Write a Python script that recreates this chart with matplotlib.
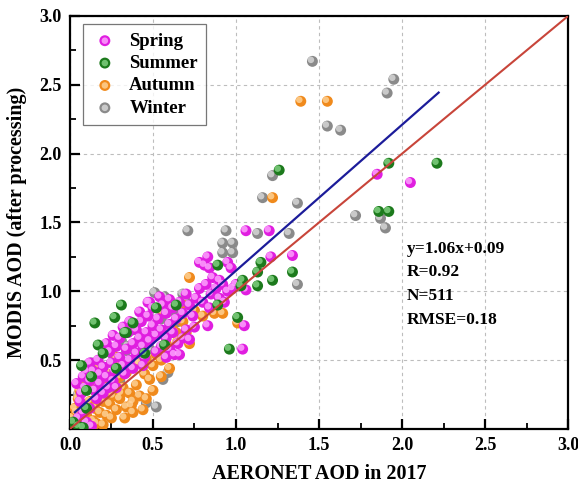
import matplotlib

matplotlib.use("Agg")
import matplotlib.pyplot as plt
import matplotlib.transforms as mtransforms
from matplotlib.legend_handler import HandlerTuple

# season -> list of (AERONET AOD, MODIS AOD)
spring = [
    (0.05, 0.08), (0.08, 0.12), (0.10, 0.05), (0.12, 0.15), (0.06, 0.20), (0.09, 0.30),
    (0.12, 0.35), (0.08, 0.38), (0.15, 0.28), (0.14, 0.42), (0.18, 0.33), (0.20, 0.45),
    (0.22, 0.38), (0.17, 0.50), (0.25, 0.48), (0.24, 0.56), (0.27, 0.42), (0.28, 0.60),
    (0.30, 0.52), (0.32, 0.46), (0.30, 0.66), (0.34, 0.58), (0.36, 0.50), (0.35, 0.70),
    (0.38, 0.62), (0.40, 0.55), (0.40, 0.72), (0.42, 0.66), (0.44, 0.60), (0.43, 0.78),
    (0.46, 0.70), (0.48, 0.64), (0.47, 0.82), (0.50, 0.75), (0.52, 0.68), (0.50, 0.88),
    (0.53, 0.80), (0.55, 0.72), (0.56, 0.90), (0.58, 0.84), (0.60, 0.76), (0.62, 0.88),
    (0.64, 0.80), (0.60, 0.94), (0.66, 0.92), (0.68, 0.84), (0.70, 0.98), (0.72, 0.90),
    (0.74, 0.82), (0.76, 0.95), (0.78, 1.02), (0.80, 0.92), (0.82, 1.05), (0.85, 0.98),
    (0.88, 1.02), (0.90, 0.95), (0.92, 1.05), (0.95, 1.00), (0.98, 1.02), (0.20, 0.26),
    (0.23, 0.30), (0.26, 0.35), (0.33, 0.40), (0.38, 0.44), (0.45, 0.52), (0.55, 0.60),
    (0.58, 0.66), (0.62, 0.70), (0.65, 0.62), (0.70, 0.72), (0.75, 0.74), (0.66, 0.54),
    (0.72, 0.65), (0.16, 0.22), (0.18, 0.40), (0.12, 0.48), (0.10, 0.42), (0.22, 0.62),
    (0.26, 0.68), (0.42, 0.85), (0.48, 0.92), (0.54, 0.96), (0.36, 0.78), (0.32, 0.74),
    (0.04, 0.33), (0.07, 0.26), (0.28, 0.30), (0.44, 0.46), (0.52, 0.56), (0.58, 0.52),
    (0.68, 0.66), (0.60, 0.58), (0.47, 0.92), (0.63, 0.54), (0.83, 0.75), (0.84, 0.88),
    (0.83, 1.25), (0.78, 1.21), (0.95, 1.21), (0.97, 1.17), (0.84, 1.17), (1.21, 1.25),
    (1.34, 1.26), (1.06, 1.01), (1.05, 0.75), (1.04, 0.58), (1.06, 1.44), (1.20, 1.44),
    (1.85, 1.85), (2.05, 1.79), (0.81, 1.19), (0.90, 1.08), (0.86, 1.10), (0.93, 0.92),
    (1.00, 1.05), (0.10, 0.00), (0.13, 0.02),
]
summer = [
    (0.07, 0.46), (0.10, 0.28), (0.17, 0.61), (0.34, 0.70), (0.31, 0.90), (0.27, 0.81),
    (0.15, 0.77), (0.38, 0.77), (0.33, 0.70), (0.52, 0.88), (0.57, 0.61), (0.96, 0.58),
    (0.89, 0.90), (1.01, 0.81), (0.89, 1.19), (1.15, 1.21), (1.13, 1.14), (1.04, 1.08),
    (1.03, 1.04), (1.13, 1.04), (1.22, 1.08), (1.34, 1.14), (1.26, 1.88), (1.92, 1.93),
    (2.21, 1.93), (1.86, 1.58), (1.92, 1.58), (0.05, 0.02), (0.08, 0.01), (0.28, 0.44),
    (0.20, 0.55), (0.45, 0.55), (0.13, 0.38), (0.64, 0.90), (0.02, 0.05), (0.10, 0.15),
]
autumn = [
    (0.02, 0.05), (0.04, 0.12), (0.06, 0.02), (0.08, 0.18), (0.05, 0.22), (0.10, 0.10),
    (0.12, 0.20), (0.14, 0.06), (0.15, 0.15), (0.18, 0.12), (0.20, 0.20), (0.16, 0.26),
    (0.22, 0.10), (0.24, 0.18), (0.26, 0.24), (0.28, 0.14), (0.30, 0.22), (0.32, 0.30),
    (0.34, 0.16), (0.36, 0.26), (0.38, 0.20), (0.40, 0.32), (0.42, 0.24), (0.44, 0.14),
    (0.46, 0.22), (0.50, 0.28), (0.48, 0.36), (0.55, 0.38), (0.60, 0.44), (0.12, 0.30),
    (0.09, 0.35), (0.20, 0.34), (0.25, 0.40), (0.30, 0.38), (0.35, 0.44), (0.40, 0.48),
    (0.45, 0.40), (0.50, 0.46), (0.55, 0.50), (0.60, 0.56), (0.65, 0.64), (0.70, 0.70),
    (0.58, 0.62), (0.52, 0.54), (0.68, 0.78), (0.72, 0.62), (0.87, 0.84), (0.92, 0.84),
    (1.01, 0.77), (1.22, 1.68), (1.39, 2.38), (1.55, 2.38), (0.75, 0.86), (0.80, 0.82),
    (0.62, 0.72), (0.18, 0.46), (0.28, 0.52), (0.06, 0.28), (0.03, 0.15), (0.01, 0.08),
    (0.11, 0.02), (0.20, 0.03), (0.33, 0.08), (0.38, 0.12), (0.58, 0.70), (0.64, 0.70),
    (0.72, 1.10), (0.56, 0.85), (0.68, 0.90), (0.37, 0.17), (0.31, 0.26), (0.27, 0.33),
    (0.34, 0.41), (0.46, 0.51), (0.42, 0.48), (0.16, 0.04), (0.25, 0.08), (0.07, 0.08),
]
winter = [
    (0.71, 1.44), (0.94, 1.44), (1.13, 1.42), (1.32, 1.42), (0.92, 1.35), (0.98, 1.35),
    (0.92, 1.28), (0.98, 1.28), (1.37, 1.05), (1.46, 2.67), (1.95, 2.54), (1.91, 2.44),
    (1.55, 2.20), (1.63, 2.17), (1.22, 1.84), (1.16, 1.68), (1.37, 1.64), (1.72, 1.55),
    (1.87, 1.53), (1.90, 1.46), (0.51, 0.99), (0.57, 0.96), (0.31, 0.64), (0.46, 0.19),
    (0.52, 0.16), (0.56, 0.36), (0.59, 0.41), (0.08, 0.34), (0.12, 0.40), (0.20, 0.45),
    (0.25, 0.55), (0.35, 0.60), (0.40, 0.50), (0.45, 0.65), (0.55, 0.80), (0.62, 0.86),
    (0.65, 0.78), (0.05, 0.25), (0.16, 0.30), (0.30, 0.35), (0.38, 0.72), (0.48, 0.58),
    (0.70, 0.92), (0.58, 0.70), (0.22, 0.20), (0.68, 0.98), (0.14, 0.35), (0.34, 0.57),
    (0.41, 0.64), (0.13, 0.48),
]

fit_slope, fit_icpt = 1.06, 0.09
fit_range = (0.03, 2.22)
stats_lines = ["y=1.06x+0.09", "R=0.92", "N=511", "RMSE=0.18"]

# label, data, base colour, highlight colour
SERIES = [
    ("Winter", winter, "#8a8a8a", "#dadada"),
    ("Autumn", autumn, "#f08a1c", "#ffd49a"),
    ("Spring", spring, "#e01ee0", "#ffa8ff"),
    ("Summer", summer, "#1c7a1c", "#86d486"),
]
LEGEND_ORDER = ["Spring", "Summer", "Autumn", "Winter"]

plt.rcParams["font.family"] = "Liberation Serif"
plt.rcParams["font.weight"] = "bold"

fig = plt.figure(figsize=(5.78, 4.9), dpi=100)
ax = fig.add_axes([0.121, 0.1245, 0.862, 0.843])

# small lighter dot shifted up-left gives the marbles a bit of shine
hl = mtransforms.offset_copy(ax.transData, fig=fig, x=-1.5, y=1.5, units="dots")
handles = {}
for label, pts, c, c_hl in SERIES:
    x = [p[0] for p in pts]
    y = [p[1] for p in pts]
    base = ax.scatter(x, y, s=62, color=c, edgecolors="none", zorder=3)
    ax.scatter(x, y, s=22, color=c_hl, edgecolors="none", alpha=0.8,
               transform=hl, zorder=3)
    top = ax.scatter([], [], s=22, color=c_hl, edgecolors="none", alpha=0.8)
    handles[label] = (base, top)

ax.plot([0, 3], [0, 3], color="#c8453a", lw=1.5, zorder=4)
xf = list(fit_range)
ax.plot(xf, [fit_slope * v + fit_icpt for v in xf], color="#1c1c9a", lw=1.6, zorder=4)

for i, s in enumerate(stats_lines):
    ax.text(2.03, 1.31 - i * 0.173, s, fontsize=12.5, fontweight="bold",
            va="center", ha="left")

ax.set_xlim(0, 3)
ax.set_ylim(0, 3)
ax.set_xticks([0, 0.5, 1.0, 1.5, 2.0, 2.5, 3.0])
ax.set_yticks([0.5, 1.0, 1.5, 2.0, 2.5, 3.0])
ax.set_xticks([0.25, 0.75, 1.25, 1.75, 2.25, 2.75], minor=True)
ax.set_yticks([0.25, 0.75, 1.25, 1.75, 2.25, 2.75], minor=True)
ax.tick_params(which="major", direction="in", length=7, width=1.6, labelsize=13, pad=6)
ax.tick_params(which="minor", direction="in", length=4, width=1.3)
for sp in ax.spines.values():
    sp.set_linewidth(1.6)
ax.grid(True, which="major", ls=(0, (3, 3)), lw=0.8, color="#bdbdbd")
ax.set_axisbelow(True)

ax.set_xlabel("AERONET AOD in 2017", fontsize=14.5, fontweight="bold", labelpad=7)
ax.set_ylabel("MODIS AOD (after processing)", fontsize=14.5, fontweight="bold", labelpad=9)

leg = ax.legend([handles[k] for k in LEGEND_ORDER], LEGEND_ORDER,
                handler_map={tuple: HandlerTuple(ndivide=1)},
                loc="upper left", bbox_to_anchor=(0.008, 1.003),
                fontsize=13.5, fancybox=False, edgecolor="#555555",
                handletextpad=0.6, borderpad=0.45, labelspacing=0.28,
                handlelength=1.4)
leg.get_frame().set_linewidth(0.9)

fig.savefig("out.png", dpi=100)
